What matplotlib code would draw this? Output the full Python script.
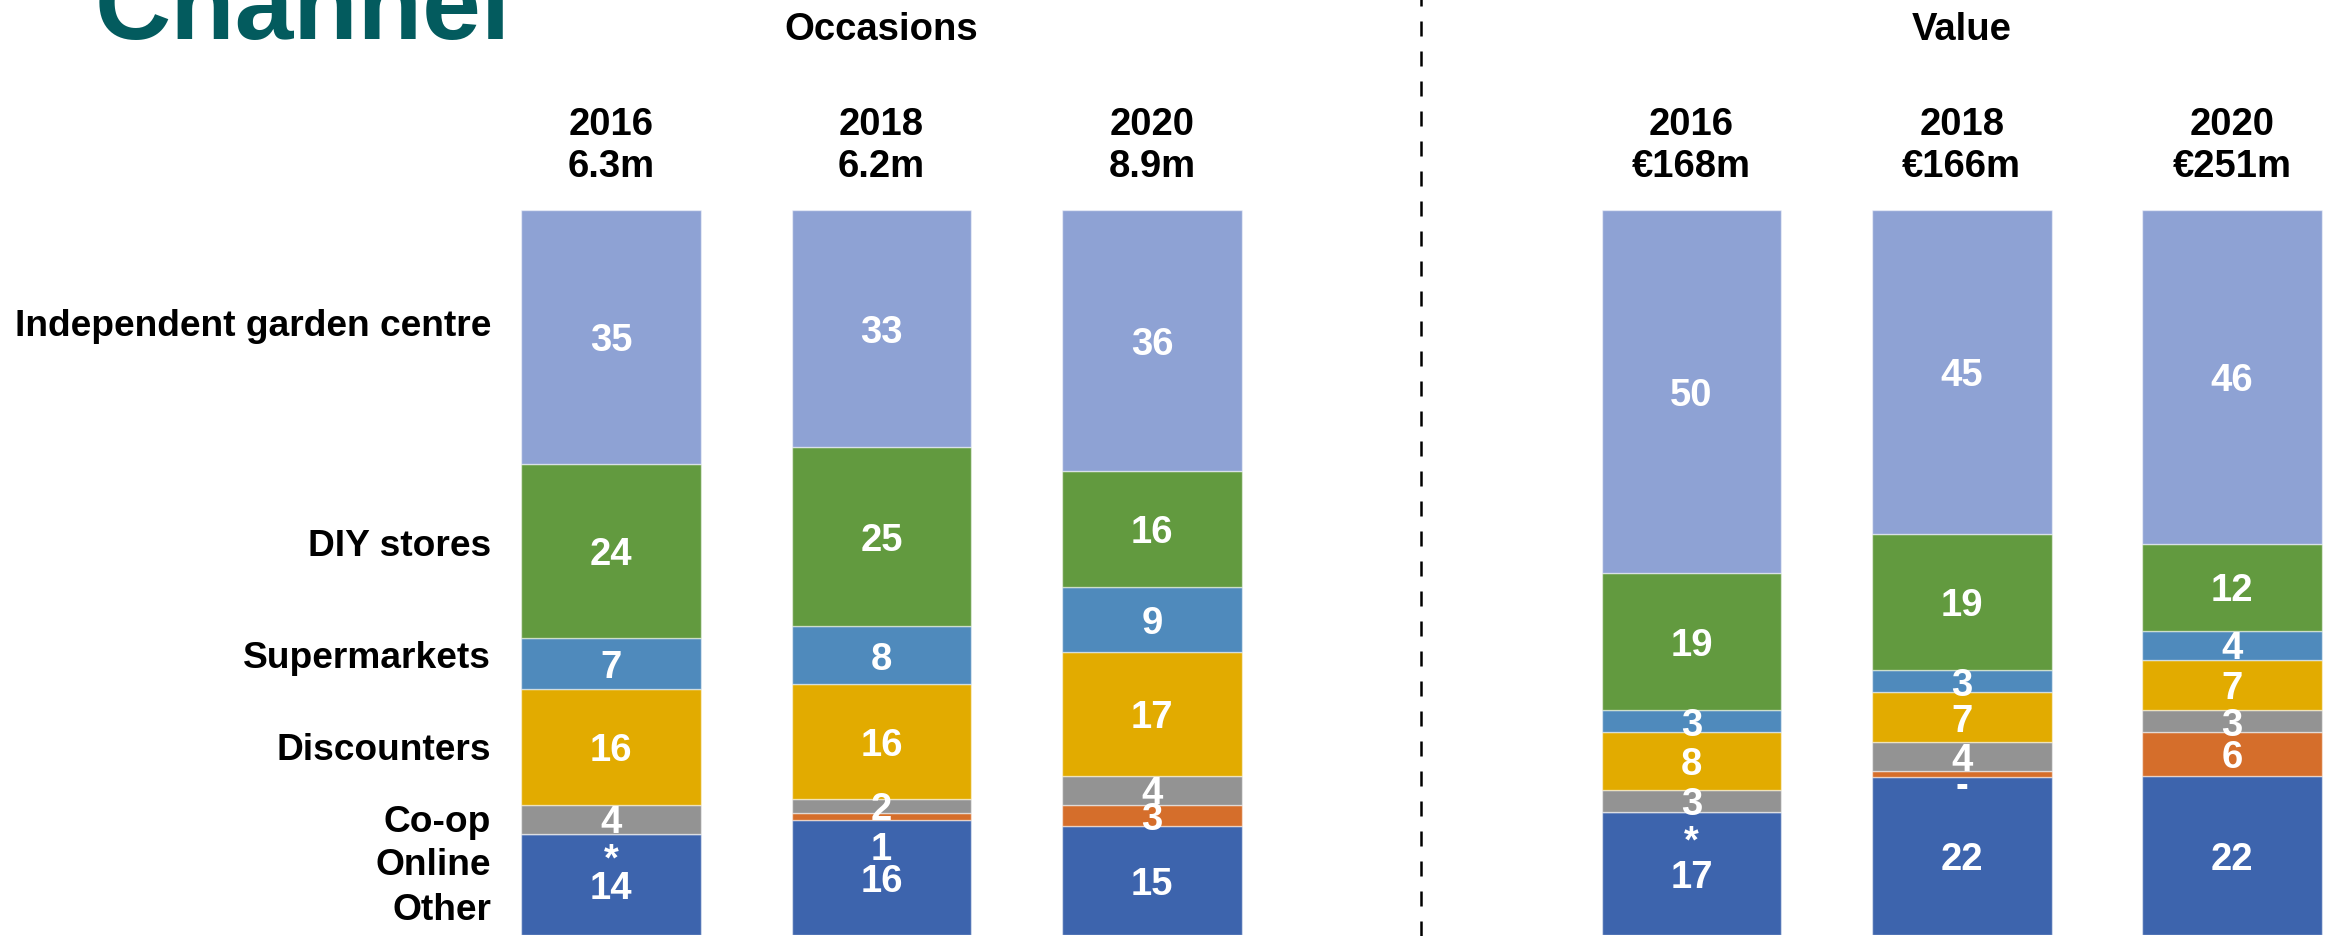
import matplotlib.pyplot as plt
import matplotlib.transforms as mtransforms
import numpy as np

plt.rcParams['font.family'] = ['Liberation Sans', 'DejaVu Sans']

# --- data ---
channels = ['Other', 'Online', 'Co-op', 'Discounters', 'Supermarkets',
            'DIY stores', 'Independent garden centre']
years = ['2016', '2018', '2020']
occ_totals = ['6.3m', '6.2m', '8.9m']
val_totals = ['€168m', '€166m', '€251m']

# share per channel, bottom (Other) to top (Independent garden centre)
occ_2016 = [14, 0, 4, 16, 7, 24, 35]
occ_2018 = [16, 1, 2, 16, 8, 25, 33]
occ_2020 = [15, 3, 4, 17, 9, 16, 36]
val_2016 = [17, 0, 3, 8, 3, 19, 50]
val_2018 = [22, 0.8, 4, 7, 3, 19, 45]
val_2020 = [22, 6, 3, 7, 4, 12, 46]

# printed labels (where they differ from the number)
occ_labels = [['14', '*', '4', '16', '7', '24', '35'],
              ['16', '1', '2', '16', '8', '25', '33'],
              ['15', '3', '4', '17', '9', '16', '36']]
val_labels = [['17', '*', '3', '8', '3', '19', '50'],
              ['22', '-', '4', '7', '3', '19', '45'],
              ['22', '6', '3', '7', '4', '12', '46']]

colors = ['#3D64AD', '#D56E2B', '#939393', '#E2AB00', '#4F8ABC',
          '#629A3F', '#8EA2D4']

# small label nudges for the tiny "Online" slices (in % units)
nudge = {('occ', 0, 1): -3.1, ('occ', 1, 1): -4.0,
         ('val', 0, 1): -3.6, ('val', 1, 1): -1.2}

W, H = 2333, 937
fig = plt.figure(figsize=(W / 100, H / 100), dpi=100)

FS = 27.5


def draw_panel(ax, key, series, labels, totals, title):
    down = mtransforms.offset_copy(ax.transData, fig=fig, x=0, y=-2.5, units='points')
    for i, vals in enumerate(series):
        vals = np.array(vals, dtype=float)
        share = vals / vals.sum() * 100
        bottoms = np.concatenate([[0], np.cumsum(share)[:-1]])
        ax.bar(i, share, bottom=bottoms, width=0.665, color=colors,
               edgecolor=(1, 1, 1, 0.5), linewidth=1)
        for j in range(len(share)):
            y = bottoms[j] + share[j] / 2 + nudge.get((key, i, j), 0)
            ax.text(i, y, labels[i][j], ha='center', va='center', transform=down,
                    color='white', fontsize=FS, fontweight='bold')
        ax.text(i, 1.0 + 86 / 725, years[i], transform=ax.get_xaxis_transform(),
                ha='center', va='center', fontsize=FS, fontweight='bold')
        ax.text(i, 1.0 + 44 / 725, totals[i], transform=ax.get_xaxis_transform(),
                ha='center', va='center', fontsize=FS, fontweight='bold')
    ax.text(1, 1.0 + 181 / 725, title, transform=ax.get_xaxis_transform(),
            ha='center', va='center', fontsize=FS, fontweight='bold')
    ax.set_xlim(-0.5, 2.5)
    ax.set_ylim(0, 100)
    ax.axis('off')


ax_top = (H - 211) / H
ax_bot = 1 / H
ax1 = fig.add_axes([475.75 / W, ax_bot, 811.5 / W, ax_top - ax_bot])
ax2 = fig.add_axes([1556.4 / W, ax_bot, 810.75 / W, ax_top - ax_bot])

draw_panel(ax1, 'occ', [occ_2016, occ_2018, occ_2020], occ_labels,
           occ_totals, 'Occasions')
draw_panel(ax2, 'val', [val_2016, val_2018, val_2020], val_labels,
           val_totals, 'Value')

# row labels on the left
row_names = ['Independent garden centre', 'DIY stores', 'Supermarkets',
             'Discounters', 'Co-op', 'Online', 'Other']
row_y = [326, 546, 659, 750, 823, 866, 911]
for name, y in zip(row_names, row_y):
    fig.text(491 / W, 1 - y / H, name, ha='right', va='center',
             fontsize=26.7, fontweight='bold')

# page title, partly cut off at the top
fig.text(95 / W, 1 - 39 / H, 'Channel', ha='left', va='baseline',
         fontsize=76, fontweight='bold', color='#035B5E')

# dashed divider
fig.add_artist(plt.Line2D([1421 / W, 1421 / W], [0, 1], color='black',
                          linestyle=(0, (6, 6)), linewidth=1.8))

fig.savefig('out.png', dpi=100)
